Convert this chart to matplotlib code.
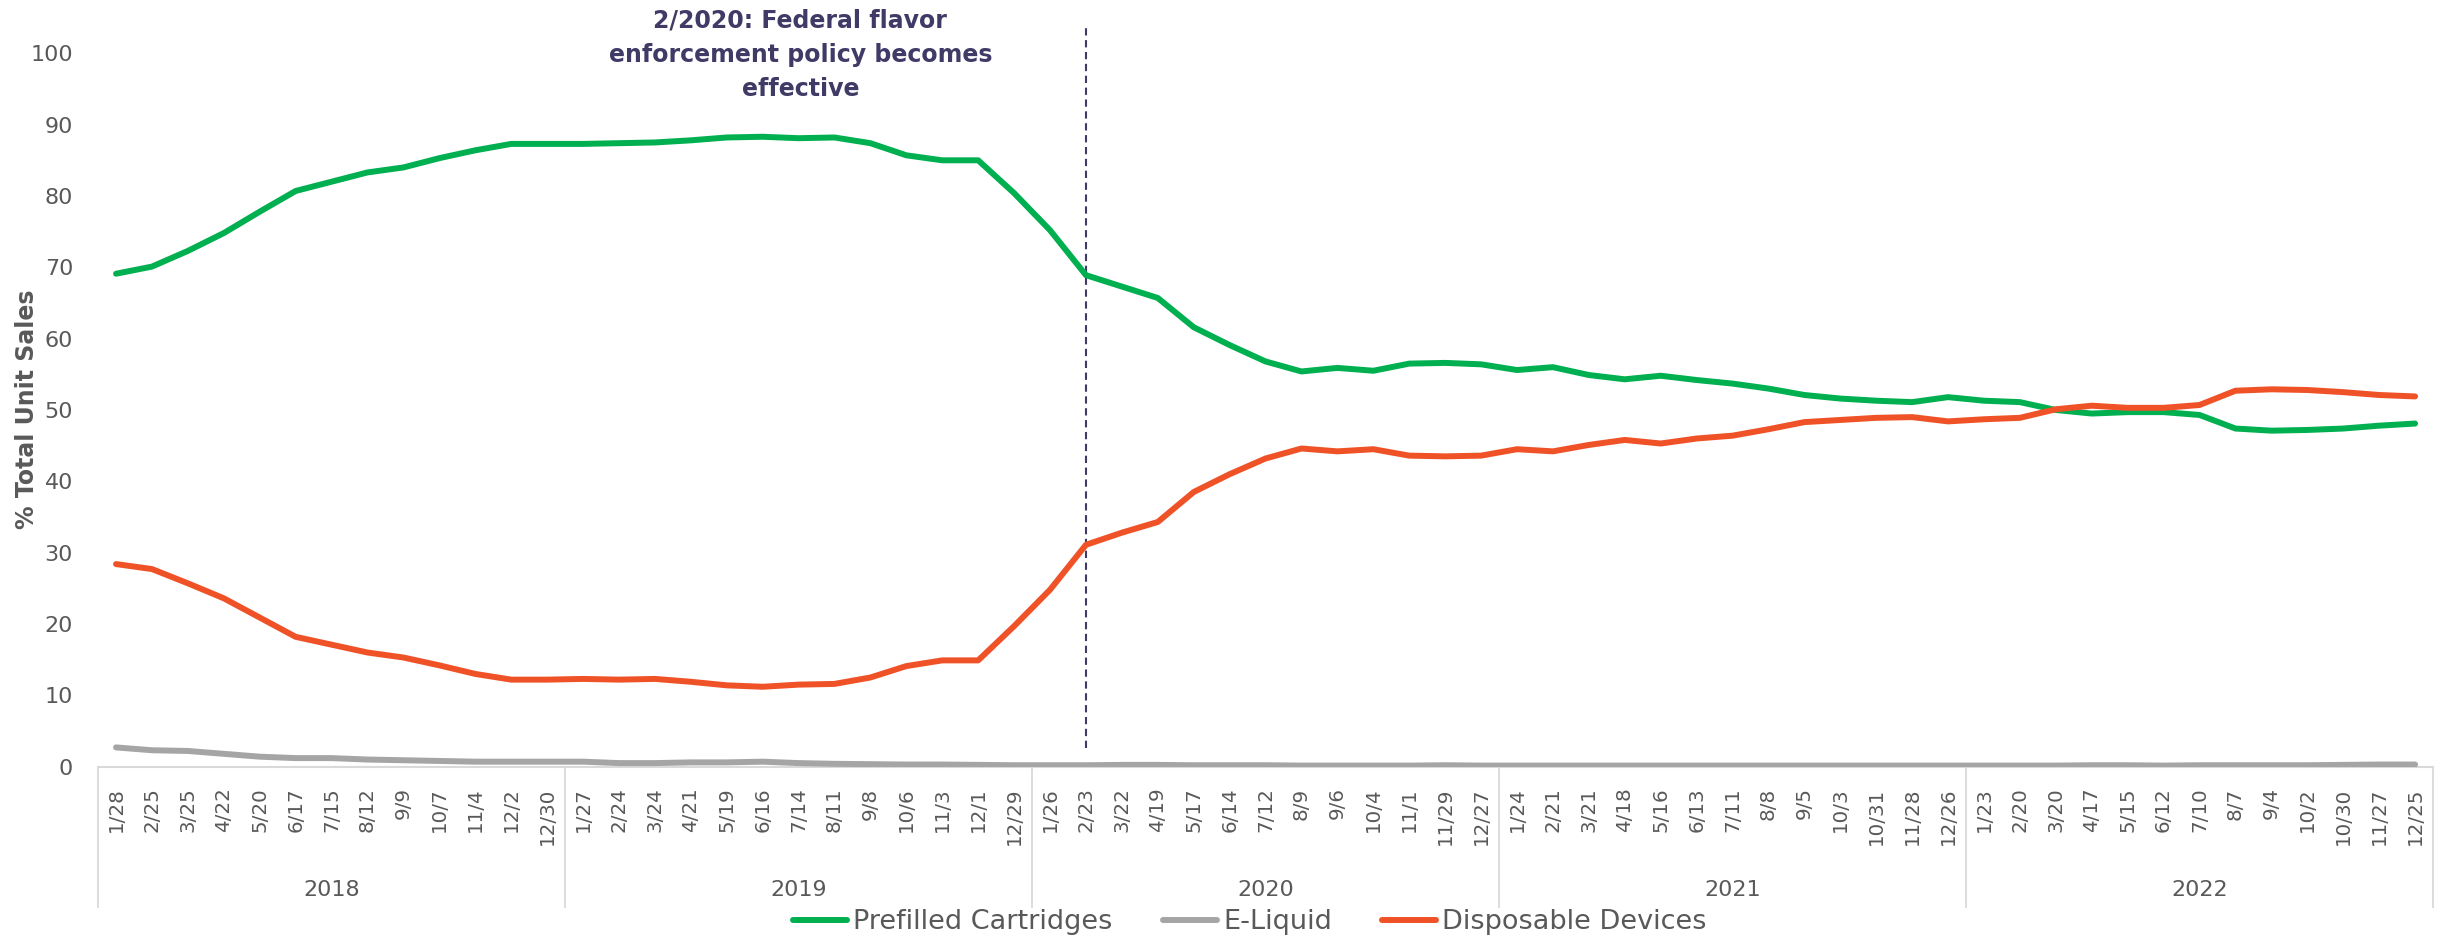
import matplotlib
matplotlib.use("Agg")
import matplotlib.pyplot as plt
import matplotlib.transforms as mtransforms

years = ["2018", "2019", "2020", "2021", "2022"]
week_labels = [
    "1/28", "2/25", "3/25", "4/22", "5/20", "6/17", "7/15", "8/12", "9/9", "10/7", "11/4", "12/2", "12/30",
    "1/27", "2/24", "3/24", "4/21", "5/19", "6/16", "7/14", "8/11", "9/8", "10/6", "11/3", "12/1", "12/29",
    "1/26", "2/23", "3/22", "4/19", "5/17", "6/14", "7/12", "8/9", "9/6", "10/4", "11/1", "11/29", "12/27",
    "1/24", "2/21", "3/21", "4/18", "5/16", "6/13", "7/11", "8/8", "9/5", "10/3", "10/31", "11/28", "12/26",
    "1/23", "2/20", "3/20", "4/17", "5/15", "6/12", "7/10", "8/7", "9/4", "10/2", "10/30", "11/27", "12/25",
]

prefilled = [
    69.1, 70.1, 72.3, 74.8, 77.8, 80.7, 82.0, 83.3, 84.0, 85.3, 86.4, 87.3, 87.3,
    87.3, 87.4, 87.5, 87.8, 88.2, 88.3, 88.1, 88.2, 87.4, 85.7, 85.0, 85.0, 80.4,
    75.2, 68.9, 67.3, 65.7, 61.6, 59.1, 56.8, 55.4, 55.9, 55.5, 56.5, 56.6, 56.4,
    55.6, 56.0, 54.9, 54.3, 54.8, 54.2, 53.7, 53.0, 52.1, 51.6, 51.3, 51.1, 51.8,
    51.3, 51.1, 50.0, 49.5, 49.7, 49.7, 49.3, 47.4, 47.1, 47.2, 47.4, 47.8, 48.1,
]
eliquid = [
    2.7, 2.3, 2.2, 1.8, 1.4, 1.2, 1.2, 1.0, 0.9, 0.8, 0.7, 0.7, 0.7,
    0.7, 0.5, 0.5, 0.6, 0.6, 0.7, 0.5, 0.4, 0.35, 0.3, 0.3, 0.25, 0.2,
    0.2, 0.2, 0.25, 0.25, 0.2, 0.2, 0.2, 0.15, 0.15, 0.15, 0.15, 0.2, 0.15,
    0.15, 0.15, 0.15, 0.15, 0.15, 0.15, 0.15, 0.15, 0.15, 0.15, 0.15, 0.15, 0.15,
    0.15, 0.15, 0.15, 0.2, 0.2, 0.15, 0.2, 0.2, 0.2, 0.2, 0.25, 0.3, 0.3,
]
disposable = [
    28.4, 27.7, 25.7, 23.6, 20.9, 18.2, 17.1, 16.0, 15.3, 14.2, 13.0, 12.2, 12.2,
    12.3, 12.2, 12.3, 11.9, 11.4, 11.2, 11.5, 11.6, 12.5, 14.1, 14.9, 14.9, 19.7,
    24.8, 31.1, 32.8, 34.3, 38.5, 41.0, 43.2, 44.6, 44.2, 44.5, 43.6, 43.5, 43.6,
    44.5, 44.2, 45.1, 45.8, 45.3, 46.0, 46.4, 47.3, 48.3, 48.6, 48.9, 49.0, 48.4,
    48.7, 48.9, 50.1, 50.6, 50.3, 50.3, 50.7, 52.7, 52.9, 52.8, 52.5, 52.1, 51.9,
]
series_names = ["Prefilled Cartridges", "E-Liquid", "Disposable Devices"]
series_colors = ["#00B050", "#A5A5A5", "#F05228"]
policy_index = 27
annotation = "2/2020: Federal flavor\nenforcement policy becomes\neffective"
y_title = "% Total Unit Sales"

TXT = "#595959"
ANN = "#3F3A66"

fig = plt.figure(figsize=(24.46, 9.4), dpi=100)
ax = fig.add_axes([0.0401, 0.1844, 0.9546, 0.7589])

x = list(range(len(week_labels)))
for vals, name, col in zip([prefilled, eliquid, disposable], series_names, series_colors):
    ax.plot(x, vals, color=col, lw=4.3, label=name, solid_joinstyle="round",
            solid_capstyle="round", zorder=3)

ax.set_xlim(-0.5, len(week_labels) - 0.5)
ax.set_ylim(0, 100)
ax.set_yticks(range(0, 101, 10))
ax.tick_params(axis="y", length=0, pad=18, labelsize=16, labelcolor=TXT)
ax.set_xticks(x)
ax.set_xticklabels(week_labels, rotation=90, va="top", ha="center")
ax.tick_params(axis="x", length=0, pad=15, labelsize=14.3, labelcolor=TXT)

for s in ["top", "right", "left"]:
    ax.spines[s].set_visible(False)
ax.spines["bottom"].set_color("#D9D9D9")
ax.spines["bottom"].set_linewidth(1.5)

fig.text(27 / 2446, 1 - 409 / 940, y_title, rotation=90, ha="center", va="center",
         fontsize=17, fontweight="bold", color=TXT)

# year group separators and labels
trans = mtransforms.blended_transform_factory(ax.transData, ax.transAxes)
n_per_year = 13
for k in range(len(years) + 1):
    xb = k * n_per_year - 0.5
    ax.plot([xb, xb], [0, -0.197], transform=trans, color="#D9D9D9", lw=1.3, clip_on=False)
for k, yr in enumerate(years):
    xc = k * n_per_year + (n_per_year - 1) / 2
    ax.text(xc, -0.173, yr, transform=trans, ha="center", va="center", fontsize=16, color=TXT)

# policy line + annotation
ax.plot([policy_index, policy_index], [2.6, 103.7], color=ANN, lw=1.5, ls=(0, (3.5, 2.2)),
        clip_on=False, zorder=2)
ax.text(19.05, 99.8, annotation, ha="center", va="center", fontsize=17, fontweight="bold",
        color=ANN, linespacing=1.52, clip_on=False)

fig.legend(loc="center", bbox_to_anchor=(0.511, 0.019), ncol=3, frameon=False,
           fontsize=19.5, labelcolor=TXT, handlelength=2.0, handletextpad=0.22,
           columnspacing=1.85)

fig.savefig("out.png", dpi=100)
